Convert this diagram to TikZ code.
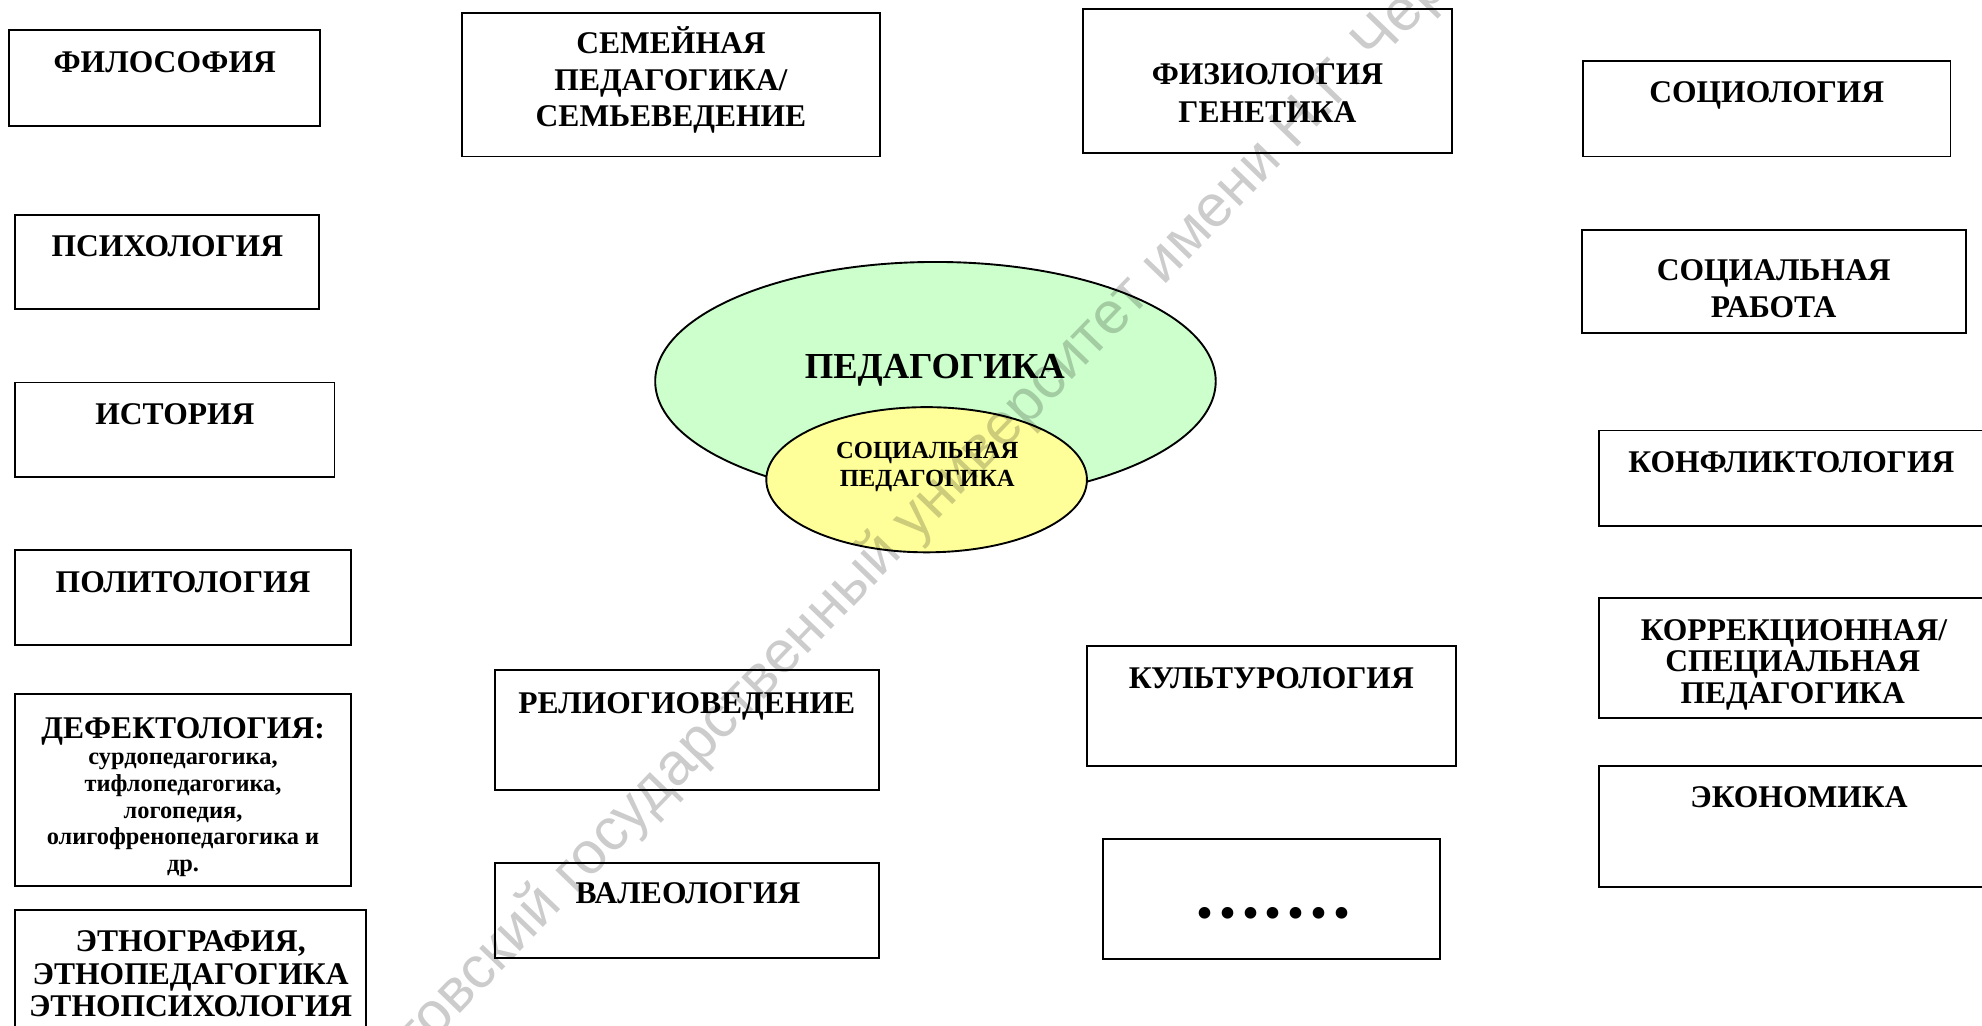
\documentclass[tikz,border=0pt]{standalone}
\usepackage{fontspec}
\setmainfont{Liberation Serif}
\newfontfamily\wmfont{Liberation Sans}
\usetikzlibrary{shapes.geometric}
\definecolor{pedgreen}{RGB}{204,255,204}
\definecolor{socyellow}{RGB}{255,255,153}
\tikzset{
  box/.style={draw, line width=1.5pt, inner sep=0pt},
  lbl/.style={font=\fontsize{25}{29}\selectfont\bfseries, anchor=base, inner sep=0pt},
  sublbl/.style={font=\fontsize{19.3}{21}\selectfont\bfseries, anchor=base, inner sep=0pt},
  biglbl/.style={font=\fontsize{29}{32}\selectfont\bfseries, anchor=base, inner sep=0pt},
  smalllbl/.style={font=\fontsize{19.5}{22}\selectfont\bfseries, anchor=base, inner sep=0pt},
  oval/.style={ellipse, draw, line width=1.5pt, inner sep=0pt},
  wm/.style={font=\wmfont\fontsize{47}{50}\selectfont, text=black, opacity=0.2, inner sep=0pt}
}
\newcommand\mybox[5]{\node[box, minimum width={(#4-#2)*1pt}, minimum height={(#5-#3)*1pt}] (#1) at ({(#2+#4)/2},{(#3+#5)/2}) {};}
\begin{document}
\begin{tikzpicture}[x=1pt,y=-1pt]
\path[use as bounding box] (0,0) rectangle (1570,812);
\clip (0,0) rectangle (1570,812);
% ellipses
\node[oval, fill=pedgreen, minimum width=444pt, minimum height=189pt] (ped) at (741,302) {};
\node[oval, fill=socyellow, minimum width=254pt, minimum height=115pt] (soc) at (734,380) {};
\node[biglbl] (pedt) at (740.5,300) {ПЕДАГОГИКА};
\node[smalllbl] (soct1) at (734.5,363) {СОЦИАЛЬНАЯ};
\node[smalllbl] (soct2) at (734.5,385.4) {ПЕДАГОГИКА};
% left column
\mybox{b1}{7}{24}{253.5}{100}
\node[lbl] (t1) at (130.5,57.6) {ФИЛОСОФИЯ};
\mybox{b2}{12}{170}{253}{245}
\node[lbl] (t2) at (132.5,203.3) {ПСИХОЛОГИЯ};
\mybox{b3}{12}{303}{265}{378}
\node[lbl] (t3) at (138.5,336.3) {ИСТОРИЯ};
\mybox{b4}{12}{436}{278}{511}
\node[lbl] (t4) at (145,469.3) {ПОЛИТОЛОГИЯ};
\mybox{b5}{12}{550}{278}{702}
\node[lbl] (t5) at (145,585) {ДЕФЕКТОЛОГИЯ:};
\node[sublbl] (t5a) at (145,605.5) {сурдопедагогика,};
\node[sublbl] (t5b) at (145,626.7) {тифлопедагогика,};
\node[sublbl] (t5c) at (145,648) {логопедия,};
\node[sublbl] (t5d) at (145,669.2) {олигофренопедагогика и};
\node[sublbl] (t5e) at (145,690.5) {др.};
\mybox{b6}{12}{721}{290}{840}
\node[lbl] (t6a) at (151,753.3) {ЭТНОГРАФИЯ,};
\node[lbl] (t6b) at (151,780) {ЭТНОПЕДАГОГИКА};
\node[lbl] (t6c) at (151,805.3) {ЭТНОПСИХОЛОГИЯ};
% middle column
\mybox{b7}{366}{10}{697}{124}
\node[lbl] (t7a) at (531.5,42.3) {СЕМЕЙНАЯ};
\node[lbl] (t7b) at (531.5,71.3) {ПЕДАГОГИКА/};
\node[lbl] (t7c) at (531.5,100.3) {СЕМЬЕВЕДЕНИЕ};
\mybox{b8}{392}{531}{696}{626}
\node[lbl] (t8) at (544,565.3) {РЕЛИОГИОВЕДЕНИЕ};
\mybox{b9}{392}{683.5}{696}{759}
\node[lbl] (t9) at (545,715.3) {ВАЛЕОЛОГИЯ};
\mybox{b10}{858}{7}{1150}{121}
\node[lbl] (t10a) at (1004,67.3) {ФИЗИОЛОГИЯ};
\node[lbl] (t10b) at (1004,96.8) {ГЕНЕТИКА};
\mybox{b16}{861}{512}{1153}{607}
\node[lbl] (t16) at (1007,545) {КУЛЬТУРОЛОГИЯ};
\mybox{b17}{874}{664.6}{1140.6}{759.6}
\node[font=\fontsize{34}{34}\selectfont\bfseries, anchor=base, inner sep=0pt] (t17) at (1008.8,735) {•\kern6.3pt•\kern6.3pt•\kern6.3pt•\kern6.3pt•\kern6.3pt•\kern6.3pt•};
% right column
\mybox{b11}{1254}{48}{1545}{124}
\node[lbl] (t11) at (1399.5,81.3) {СОЦИОЛОГИЯ};
\mybox{b12}{1253}{182}{1557}{264}
\node[lbl] (t12a) at (1405,222.3) {СОЦИАЛЬНАЯ};
\node[lbl] (t12b) at (1405,251.3) {РАБОТА};
\mybox{b13}{1266.5}{341}{1576}{417}
\node[lbl] (t13) at (1419,374.4) {КОНФЛИКТОЛОГИЯ};
\mybox{b14}{1266.5}{474}{1576}{568.7}
\node[lbl] (t14a) at (1421,507) {КОРРЕКЦИОННАЯ/};
\node[lbl] (t14b) at (1420,532) {СПЕЦИАЛЬНАЯ};
\node[lbl] (t14c) at (1420,557.6) {ПЕДАГОГИКА};
\mybox{b15}{1266.5}{607}{1576}{702.3}
\node[lbl] (t15) at (1425,640) {ЭКОНОМИКА};
% watermark
\node[wm, rotate=46, anchor=base west] (wmark) at (725,430) {\llap{Саратовский государственный }университет имени Н.Г. Чернышевского};
\end{tikzpicture}
\end{document}
